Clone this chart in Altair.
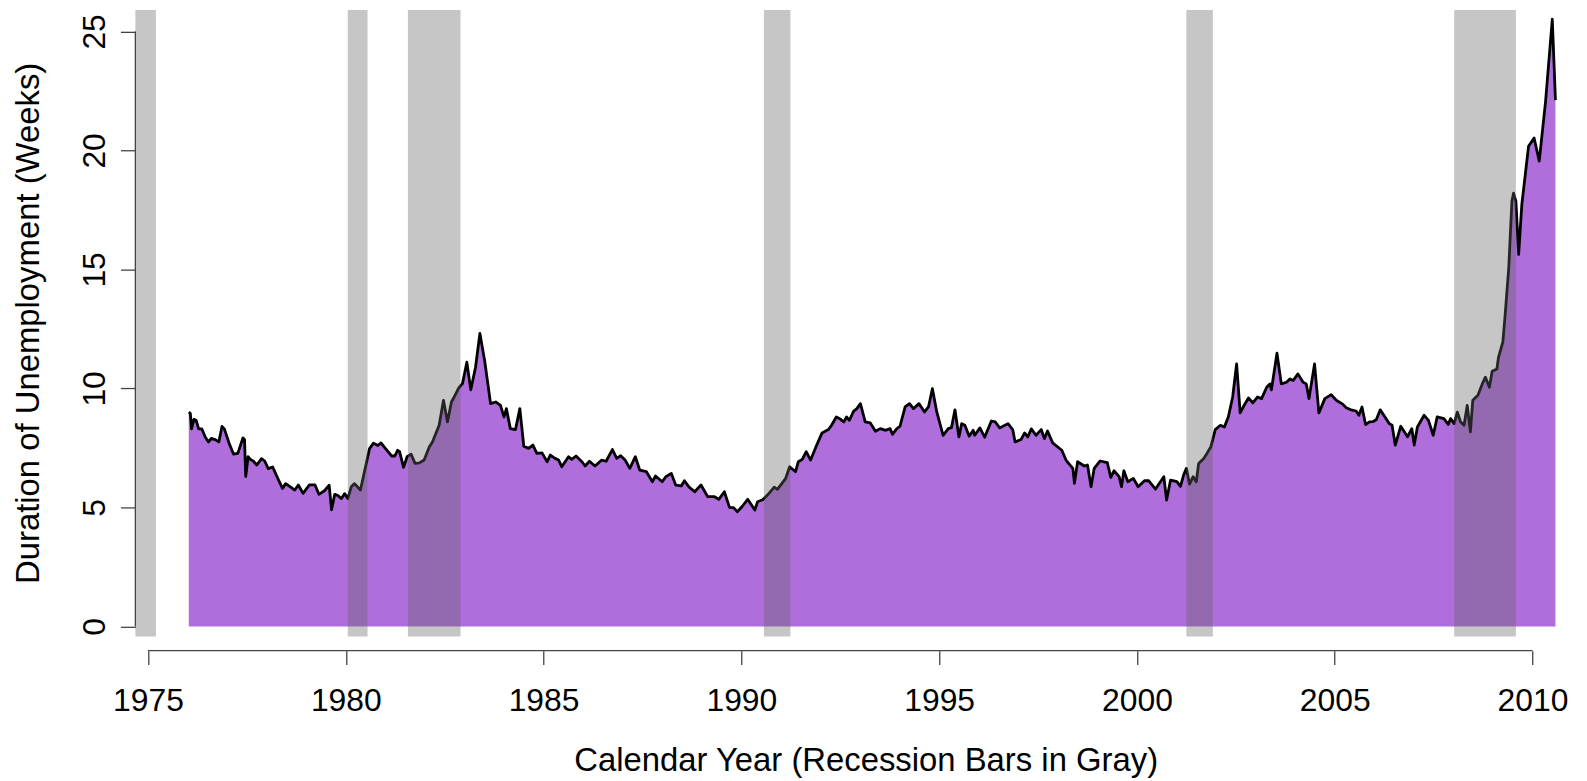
import altair as alt
import pandas as pd

# ---- data ----
years = [
    1976.03, 1976.07, 1976.10, 1976.16, 1976.22, 1976.28, 1976.36, 1976.45, 1976.53, 1976.60,
    1976.70, 1976.79, 1976.87, 1976.93, 1977.05, 1977.16, 1977.27, 1977.40, 1977.44, 1977.47,
    1977.53, 1977.60, 1977.66, 1977.75, 1977.87, 1977.95, 1978.04, 1978.15, 1978.30, 1978.40,
    1978.48, 1978.59, 1978.71, 1978.80, 1978.92, 1979.08, 1979.22, 1979.32, 1979.46, 1979.58,
    1979.64, 1979.72, 1979.80, 1979.89, 1979.97, 1980.05, 1980.14, 1980.22, 1980.37, 1980.60,
    1980.70, 1980.81, 1980.89, 1981.00, 1981.16, 1981.24, 1981.31, 1981.36, 1981.46, 1981.55,
    1981.65, 1981.75, 1981.86, 1981.98, 1982.11, 1982.19, 1982.36, 1982.47, 1982.57, 1982.67,
    1982.74, 1982.86, 1982.95, 1983.06, 1983.16, 1983.28, 1983.39, 1983.51, 1983.66, 1983.79,
    1983.91, 1984.00, 1984.06, 1984.16, 1984.29, 1984.40, 1984.50, 1984.62, 1984.73, 1984.83,
    1984.96, 1985.09, 1985.17, 1985.29, 1985.38, 1985.46, 1985.63, 1985.71, 1985.82, 1985.97,
    1986.05, 1986.16, 1986.30, 1986.47, 1986.58, 1986.74, 1986.85, 1986.95, 1987.06, 1987.18,
    1987.32, 1987.43, 1987.60, 1987.75, 1987.83, 1988.00, 1988.09, 1988.23, 1988.34, 1988.48,
    1988.56, 1988.68, 1988.82, 1988.98, 1989.15, 1989.32, 1989.43, 1989.57, 1989.70, 1989.80,
    1989.90, 1990.03, 1990.16, 1990.24, 1990.34, 1990.41, 1990.54, 1990.66, 1990.83, 1990.91,
    1991.04, 1991.12, 1991.22, 1991.37, 1991.44, 1991.54, 1991.64, 1991.75, 1991.88, 1992.04,
    1992.20, 1992.28, 1992.40, 1992.51, 1992.59, 1992.66, 1992.73, 1992.84, 1992.92, 1993.01,
    1993.13, 1993.26, 1993.39, 1993.51, 1993.65, 1993.76, 1993.82, 1993.93, 1994.01, 1994.14,
    1994.25, 1994.35, 1994.49, 1994.63, 1994.73, 1994.83, 1994.94, 1995.10, 1995.23, 1995.31,
    1995.40, 1995.50, 1995.57, 1995.65, 1995.76, 1995.86, 1995.90, 1996.03, 1996.15, 1996.32,
    1996.42, 1996.53, 1996.74, 1996.86, 1996.92, 1997.07, 1997.16, 1997.24, 1997.33, 1997.45,
    1997.58, 1997.66, 1997.74, 1997.87, 1998.10, 1998.21, 1998.38, 1998.42, 1998.50, 1998.67,
    1998.75, 1998.84, 1998.92, 1999.07, 1999.25, 1999.34, 1999.42, 1999.55, 1999.61, 1999.67,
    1999.77, 1999.91, 2000.03, 2000.19, 2000.30, 2000.47, 2000.68, 2000.75, 2000.85, 2001.01,
    2001.10, 2001.18, 2001.25, 2001.33, 2001.42, 2001.50, 2001.56, 2001.69, 2001.77, 2001.87,
    2001.98, 2002.11, 2002.21, 2002.31, 2002.42, 2002.52, 2002.61, 2002.71, 2002.82, 2002.93,
    2003.05, 2003.15, 2003.28, 2003.36, 2003.40, 2003.54, 2003.65, 2003.78, 2003.87, 2003.95,
    2004.07, 2004.20, 2004.28, 2004.35, 2004.49, 2004.60, 2004.75, 2004.91, 2005.04, 2005.21,
    2005.29, 2005.41, 2005.54, 2005.61, 2005.69, 2005.78, 2005.88, 2005.96, 2006.05, 2006.15,
    2006.38, 2006.45, 2006.53, 2006.67, 2006.84, 2006.95, 2007.01, 2007.09, 2007.26, 2007.37,
    2007.49, 2007.59, 2007.76, 2007.87, 2007.93, 2008.02, 2008.10, 2008.18, 2008.27, 2008.35,
    2008.43, 2008.49, 2008.62, 2008.73, 2008.81, 2008.91, 2008.98, 2009.10, 2009.14, 2009.25,
    2009.31, 2009.40, 2009.48, 2009.52, 2009.58, 2009.65, 2009.73, 2009.90, 2010.04, 2010.17,
    2010.33, 2010.50, 2010.58,
]
weeks = [
    9.00, 8.95, 8.30, 8.70, 8.65, 8.30, 8.30, 7.95, 7.75, 7.90,
    7.85, 7.75, 8.40, 8.30, 7.70, 7.24, 7.27, 7.92, 7.85, 6.30,
    7.13, 7.00, 6.95, 6.78, 7.05, 6.95, 6.63, 6.70, 6.15, 5.80,
    6.00, 5.87, 5.73, 5.94, 5.59, 5.95, 5.95, 5.55, 5.70, 5.93,
    4.90, 5.55, 5.50, 5.37, 5.58, 5.37, 5.87, 6.00, 5.73, 7.47,
    7.70, 7.60, 7.71, 7.48, 7.16, 7.16, 7.40, 7.34, 6.68, 7.13,
    7.24, 6.85, 6.87, 6.99, 7.54, 7.75, 8.45, 9.50, 8.59, 9.43,
    9.64, 10.03, 10.20, 11.10, 9.94, 10.89, 12.31, 11.17, 9.36, 9.43,
    9.29, 8.80, 9.15, 8.31, 8.27, 9.15, 7.57, 7.48, 7.62, 7.27,
    7.29, 6.92, 7.20, 7.06, 6.99, 6.71, 7.13, 7.02, 7.16, 6.92,
    6.74, 6.94, 6.74, 6.99, 6.94, 7.43, 7.06, 7.17, 6.99, 6.64,
    7.13, 6.57, 6.50, 6.08, 6.32, 6.08, 6.29, 6.43, 5.94, 5.90,
    6.12, 5.85, 5.66, 5.94, 5.45, 5.45, 5.34, 5.66, 5.00, 4.99,
    4.82, 5.06, 5.34, 5.14, 4.89, 5.24, 5.32, 5.52, 5.85, 5.76,
    6.04, 6.22, 6.71, 6.50, 6.92, 7.02, 7.34, 6.99, 7.52, 8.13,
    8.27, 8.45, 8.80, 8.70, 8.59, 8.80, 8.66, 9.05, 9.15, 9.36,
    8.59, 8.55, 8.20, 8.31, 8.24, 8.31, 8.07, 8.31, 8.41, 9.22,
    9.36, 9.15, 9.36, 9.01, 9.22, 9.99, 9.01, 8.03, 8.31, 8.35,
    9.10, 7.96, 8.52, 8.45, 7.99, 8.24, 8.03, 8.34, 7.95, 8.63,
    8.59, 8.34, 8.52, 8.27, 7.75, 7.85, 8.13, 7.96, 8.30, 8.03,
    8.27, 7.89, 8.21, 7.71, 7.40, 6.98, 6.64, 6.01, 6.92, 6.74,
    6.78, 5.87, 6.64, 6.95, 6.88, 6.26, 6.54, 6.29, 5.87, 6.54,
    6.08, 6.22, 5.87, 6.12, 6.12, 5.77, 6.29, 5.31, 6.15, 6.08,
    5.88, 6.36, 6.64, 5.98, 6.29, 6.08, 6.85, 7.06, 7.27, 7.55,
    8.27, 8.45, 8.38, 8.80, 9.64, 11.03, 8.97, 9.29, 9.60, 9.39,
    9.64, 9.57, 10.05, 10.19, 9.94, 11.48, 10.19, 10.26, 10.40, 10.33,
    10.61, 10.26, 10.19, 9.57, 11.03, 8.97, 9.57, 9.74, 9.50, 9.33,
    9.19, 9.10, 9.05, 8.87, 9.22, 8.48, 8.59, 8.60, 8.68, 9.10,
    8.52, 8.45, 7.62, 8.41, 7.97, 8.31, 7.62, 8.38, 8.87, 8.66,
    8.03, 8.80, 8.73, 8.49, 8.73, 8.52, 9.00, 8.60, 8.45, 9.29,
    8.17, 9.50, 9.71, 10.19, 10.47, 10.05, 10.72, 10.82, 11.30, 11.94,
    13.12, 15.08, 17.87, 18.20, 17.87, 15.63, 17.73, 20.17, 20.52, 19.55,
    22.05, 25.51, 22.11,
]

recession_start = [1973.90, 1980.05, 1981.57, 1990.57, 2001.25, 2008.02]
recession_end = [1975.20, 1980.55, 1982.90, 1991.24, 2001.92, 2009.58]

x_ticks = [1975, 1980, 1985, 1990, 1995, 2000, 2005, 2010]
y_ticks = [0, 5, 10, 15, 20, 25]

# ---- styling / layout ----
W, H = 1448, 644
X_DOMAIN = [1974.68, 2011.10]
Y_DOMAIN = [-1.02, 25.90]
BAR_BOTTOM = -0.42
FONT = "Liberation Sans"
FS = 32
TFS = 33
PURPLE = "#AF6EDC"
AXIS_COL = "#444444"

df = pd.DataFrame({"year": years, "weeks": weeks})
rec = pd.DataFrame({
    "year": recession_start,
    "end": recession_end,
    "weeks": [BAR_BOTTOM] * len(recession_start),
    "hi": [Y_DOMAIN[1]] * len(recession_start),
})
xline = pd.DataFrame({"year": [min(x_ticks)], "b": [max(x_ticks)]})
yline = pd.DataFrame({"weeks": [min(y_ticks)], "b": [max(y_ticks)]})

xs = alt.Scale(domain=X_DOMAIN, nice=False, zero=False)
ys = alt.Scale(domain=Y_DOMAIN, nice=False, zero=False)

x_axis = alt.Axis(
    values=x_ticks, format="d", domain=False, grid=False,
    tickSize=14, tickColor=AXIS_COL, tickWidth=1.3,
    labelFont=FONT, labelFontSize=FS, labelColor="black",
    labelBaseline="top", labelAlign="center", labelPadding=21,
    labelFlush=False, labelOverlap=False, labelBound=False,
    title="Calendar Year (Recession Bars in Gray)",
    titleFont=FONT, titleFontSize=TFS, titleFontWeight="normal", titleColor="black",
    titleX=734, titleY=120, titleAlign="center", titleBaseline="alphabetic", titleAngle=0,
)
y_axis = alt.Axis(
    values=y_ticks, format="d", domain=False, grid=False,
    tickSize=15, tickColor=AXIS_COL, tickWidth=1.3,
    labelFont=FONT, labelFontSize=FS, labelColor="black",
    labelAngle=270, labelAlign="center", labelBaseline="alphabetic", labelPadding=16,
    labelFlush=False, labelOverlap=False, labelBound=False,
    title="Duration of Unemployment (Weeks)",
    titleFont=FONT, titleFontSize=TFS, titleFontWeight="normal", titleColor="black",
    titleX=-97, titleY=314.5, titleAlign="center", titleBaseline="alphabetic", titleAngle=270,
)

X = alt.X("year:Q", scale=xs, axis=x_axis)
Y = alt.Y("weeks:Q", scale=ys, axis=y_axis)

area = alt.Chart(df).mark_area(color=PURPLE, opacity=1, clip=True).encode(
    x=X, y=Y, y2=alt.datum(0),
)
line = alt.Chart(df).mark_line(color="black", strokeWidth=2.8, strokeJoin="round", clip=True).encode(
    x=X, y=Y,
)
bars = alt.Chart(rec).mark_rect(color="#646464", opacity=0.37, clip=True).encode(
    x=X, x2="end:Q", y=Y, y2="hi:Q",
)
x_line = alt.Chart(xline).mark_rule(color=AXIS_COL, strokeWidth=1.3).encode(
    x=X, x2="b:Q", y=alt.value(H)
)
y_line = alt.Chart(yline).mark_rule(color=AXIS_COL, strokeWidth=1.3).encode(
    y=Y, y2="b:Q", x=alt.value(0)
)

chart = alt.layer(area, line, bars, x_line, y_line).properties(
    width=W, height=H,
    autosize=alt.AutoSizeParams(type="none"),
    padding={"left": 128, "top": 0, "right": 3, "bottom": 129},
    background="white",
).configure_view(stroke=None)

chart.save("out.html", embed_options={"renderer": "svg", "actions": False})
